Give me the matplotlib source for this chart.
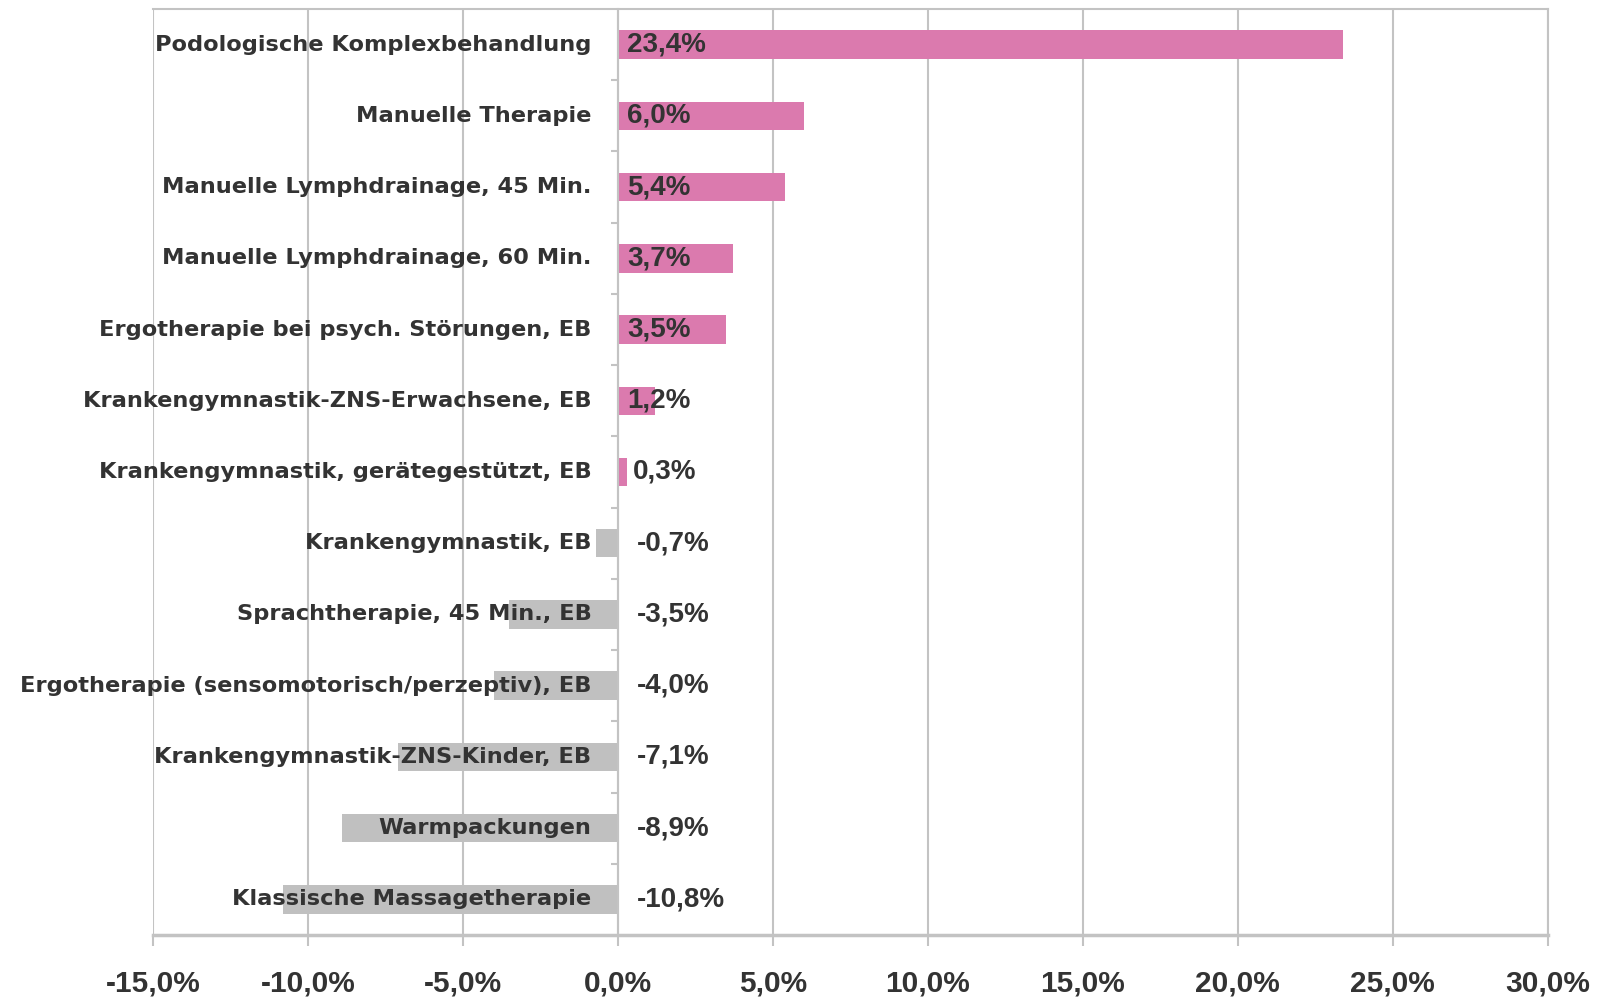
import matplotlib
matplotlib.use("Agg")
import matplotlib.pyplot as plt
from matplotlib.ticker import FixedLocator, NullFormatter

categories = [
    "Podologische Komplexbehandlung",
    "Manuelle Therapie",
    "Manuelle Lymphdrainage, 45 Min.",
    "Manuelle Lymphdrainage, 60 Min.",
    "Ergotherapie bei psych. Störungen, EB",
    "Krankengymnastik-ZNS-Erwachsene, EB",
    "Krankengymnastik, gerätegestützt, EB",
    "Krankengymnastik, EB",
    "Sprachtherapie, 45 Min., EB",
    "Ergotherapie (sensomotorisch/perzeptiv), EB",
    "Krankengymnastik-ZNS-Kinder, EB",
    "Warmpackungen",
    "Klassische Massagetherapie",
]
values = [23.4, 6.0, 5.4, 3.7, 3.5, 1.2, 0.3, -0.7, -3.5, -4.0, -7.1, -8.9, -10.8]
xticks = [-15, -10, -5, 0, 5, 10, 15, 20, 25, 30]

PINK = "#DB7AAE"
GREY_BAR = "#C0C0C0"
GRID = "#C3C3C3"
TXT = "#333333"
NUMFONT = "Liberation Sans"
CATFONT = "DejaVu Sans"

fig = plt.figure(figsize=(15.99, 9.97), dpi=100)
ax = fig.add_axes([0.0957, 0.0622, 0.8723, 0.9288])

n = len(categories)
ypos = list(range(n))
colors = [PINK if v >= 0 else GREY_BAR for v in values]
ax.barh(ypos, values, height=0.4, color=colors, zorder=2)

ax.set_xlim(-15, 30)
ax.set_ylim(n - 0.5, -0.5)

ax.set_xticks(xticks)
ax.set_xticklabels([f"{t:.1f}%".replace(".", ",") for t in xticks],
                   fontfamily=NUMFONT, fontweight="bold", fontsize=21.5, color=TXT)
ax.tick_params(axis="x", length=8, width=1.5, color=GRID, pad=17)
ax.grid(axis="x", color=GRID, linewidth=1.5, zorder=0)
ax.set_axisbelow(True)

# y axis placed at zero with ticks between categories
ax.spines["left"].set_position(("data", 0))
ax.yaxis.set_major_locator(FixedLocator([i + 0.5 for i in range(n - 1)]))
ax.yaxis.set_major_formatter(NullFormatter())
ax.tick_params(axis="y", length=5, width=1.5, color=GRID)
for s in ["left", "right", "top"]:
    ax.spines[s].set_color(GRID)
    ax.spines[s].set_linewidth(1.5)
ax.spines["bottom"].set_color(GRID)
ax.spines["bottom"].set_linewidth(2.5)
ax.spines["left"].set_zorder(3)

for y, cat, v in zip(ypos, categories, values):
    ax.text(-0.85, y, cat, ha="right", va="center", fontfamily=CATFONT,
            fontweight="bold", fontsize=16.2, color=TXT, zorder=4)
    if v >= 0:
        lx = 0.3 if v > 1 else v + 0.18
    else:
        lx = 0.6
    ax.text(lx, y, f"{v:.1f}%".replace(".", ","), ha="left", va="center",
            fontfamily=NUMFONT, fontweight="bold", fontsize=20, color=TXT, zorder=4)

fig.savefig("out.png", dpi=100)
